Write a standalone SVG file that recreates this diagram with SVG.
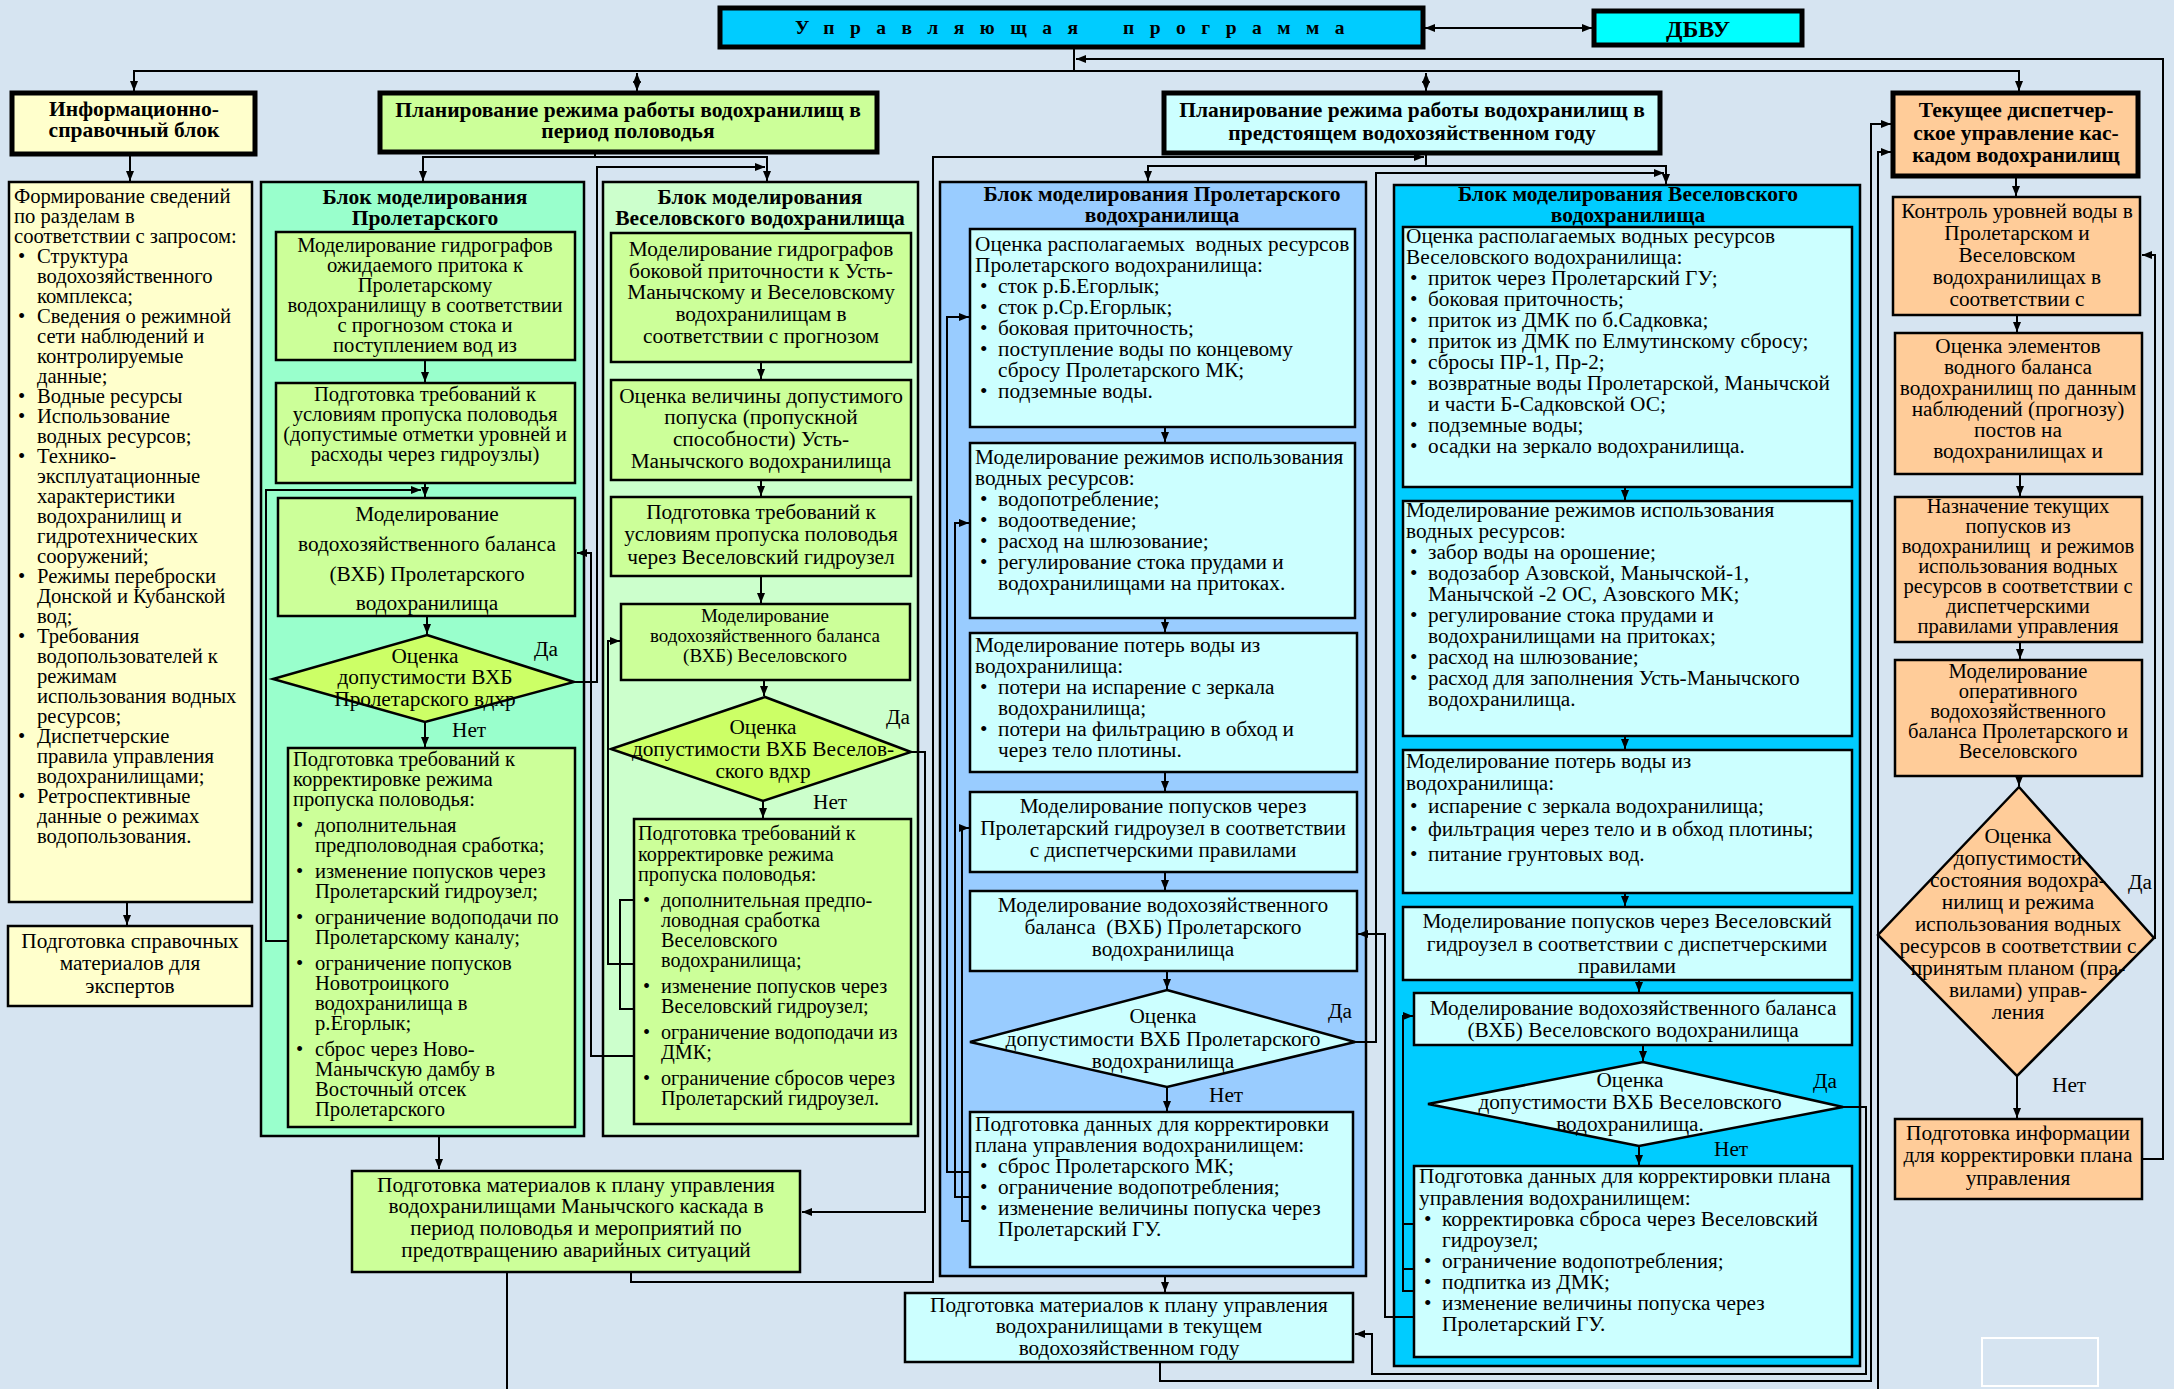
<svg xmlns="http://www.w3.org/2000/svg" width="2174" height="1389" viewBox="0 0 2174 1389">
<defs>
<style>
.n{stroke:#000;stroke-width:2.5}
.hd{stroke:#000;stroke-width:5}
.y{fill:#FFFFCC}
.g{fill:#CCFF99}
.gd{fill:#CCFF66}
.mint{fill:#99FFCC}
.lg{fill:#CCFFCC}
.lc{fill:#CCFFFF}
.bl{fill:#99CCFF}
.cy{fill:#00CCFF}
.aq{fill:#00FFFF}
.or{fill:#FFCC99}
text{font-family:"Liberation Serif","Times New Roman",serif;font-size:21.3px;fill:#000}
.c{text-anchor:middle}
.b{font-weight:bold;font-size:21.5px}
.s206{font-size:20.6px}
.s20{font-size:20.2px}
.s19{font-size:19px}
#connectors path{fill:none;stroke:#000;stroke-width:2}
</style>
<marker id="a" viewBox="0 0 10 8" refX="10" refY="4" markerWidth="10" markerHeight="8" markerUnits="userSpaceOnUse" orient="auto-start-reverse"><path d="M0 0L10 4L0 8z" fill="#000"/></marker>
</defs>
<rect x="0" y="0" width="2174" height="1389" fill="#D6E4F1"/>

<!-- blocks (containers) -->
<g id="block-prolet-flood"><rect x="261" y="182" width="323" height="954" class="mint n"/>
<text class="c b"><tspan x="425" y="204">Блок моделирования</tspan><tspan x="425" y="225">Пролетарского</tspan></text></g>
<g id="block-vesel-flood"><rect x="603" y="182" width="315" height="954" class="lg n"/>
<text class="c b"><tspan x="760" y="204">Блок моделирования</tspan><tspan x="760" y="225">Веселовского водохранилища</tspan></text></g>
<g id="block-prolet-year"><rect x="940" y="182" width="426" height="1094" class="bl n"/>
<text class="c b"><tspan x="1162" y="201">Блок моделирования Пролетарского</tspan><tspan x="1162" y="222">водохранилища</tspan></text></g>
<g id="block-vesel-year"><rect x="1394" y="185" width="466" height="1181" class="cy n"/>
<text class="c b"><tspan x="1628" y="201">Блок моделирования Веселовского</tspan><tspan x="1628" y="222">водохранилища</tspan></text></g>

<!-- top -->
<g id="control-program"><rect x="720" y="8" width="703" height="39" class="cy hd"/>
<text class="b" style="font-size:19.5px" letter-spacing="15.5"><tspan x="795" y="34">Управляющая</tspan><tspan x="1123" y="34">программа</tspan></text></g>
<g id="dbvu"><rect x="1594" y="11" width="208" height="34" class="aq hd"/>
<text class="c b" style="font-size:24px" x="1698" y="37">ДБВУ</text></g>

<!-- column 1 -->
<g id="info-header"><rect x="12" y="93" width="243" height="61" class="y hd"/>
<text class="c b"><tspan x="134" y="116">Информационно-</tspan><tspan x="134" y="137">справочный блок</tspan></text></g>
<g id="info-list"><rect x="9" y="182" width="243" height="720" class="y n"/>
<text class="s206">
<tspan x="14" y="203">Формирование сведений</tspan>
<tspan x="14" y="223">по разделам в</tspan>
<tspan x="14" y="243">соответствии с запросом:</tspan>
<tspan x="18" y="263">•</tspan><tspan x="37">Структура</tspan>
<tspan x="37" y="283">водохозяйственного</tspan>
<tspan x="37" y="303">комплекса;</tspan>
<tspan x="18" y="323">•</tspan><tspan x="37">Сведения о режимной</tspan>
<tspan x="37" y="343">сети наблюдений и</tspan>
<tspan x="37" y="363">контролируемые</tspan>
<tspan x="37" y="383">данные;</tspan>
<tspan x="18" y="403">•</tspan><tspan x="37">Водные ресурсы</tspan>
<tspan x="18" y="423">•</tspan><tspan x="37">Использование</tspan>
<tspan x="37" y="443">водных ресурсов;</tspan>
<tspan x="18" y="463">•</tspan><tspan x="37">Технико-</tspan>
<tspan x="37" y="483">эксплуатационные</tspan>
<tspan x="37" y="503">характеристики</tspan>
<tspan x="37" y="523">водохранилищ и</tspan>
<tspan x="37" y="543">гидротехнических</tspan>
<tspan x="37" y="563">сооружений;</tspan>
<tspan x="18" y="583">•</tspan><tspan x="37">Режимы переброски</tspan>
<tspan x="37" y="603">Донской и Кубанской</tspan>
<tspan x="37" y="623">вод;</tspan>
<tspan x="18" y="643">•</tspan><tspan x="37">Требования</tspan>
<tspan x="37" y="663">водопользователей к</tspan>
<tspan x="37" y="683">режимам</tspan>
<tspan x="37" y="703">использования водных</tspan>
<tspan x="37" y="723">ресурсов;</tspan>
<tspan x="18" y="743">•</tspan><tspan x="37">Диспетчерские</tspan>
<tspan x="37" y="763">правила управления</tspan>
<tspan x="37" y="783">водохранилищами;</tspan>
<tspan x="18" y="803">•</tspan><tspan x="37">Ретроспективные</tspan>
<tspan x="37" y="823">данные о режимах</tspan>
<tspan x="37" y="843">водопользования.</tspan>
</text></g>
<g id="info-experts"><rect x="8" y="926" width="244" height="80" class="y n"/>
<text class="c"><tspan x="130" y="948">Подготовка справочных</tspan><tspan x="130" y="970">материалов для</tspan><tspan x="130" y="993">экспертов</tspan></text></g>

<!-- column 2 -->
<g id="flood-header"><rect x="380" y="93" width="497" height="59" class="g hd"/>
<text class="c b"><tspan x="628" y="117">Планирование режима работы водохранилищ в</tspan><tspan x="628" y="138">период половодья</tspan></text></g>
<g id="pf-hydro"><rect x="276" y="232" width="299" height="128" class="g n"/>
<text class="c s206"><tspan x="425" y="252">Моделирование гидрографов</tspan><tspan x="425" y="272">ожидаемого притока к</tspan><tspan x="425" y="292">Пролетарскому</tspan><tspan x="425" y="312">водохранилищу в соответствии</tspan><tspan x="425" y="332">с прогнозом стока и</tspan><tspan x="425" y="352">поступлением вод из</tspan></text></g>
<g id="pf-req"><rect x="276" y="383" width="299" height="100" class="g n"/>
<text class="c s206"><tspan x="425" y="401">Подготовка требований к</tspan><tspan x="425" y="421">условиям пропуска половодья</tspan><tspan x="425" y="441">(допустимые отметки уровней и</tspan><tspan x="425" y="461">расходы через гидроузлы)</tspan></text></g>
<g id="pf-balance"><rect x="278" y="498" width="297" height="118" class="g n"/>
<text class="c"><tspan x="427" y="521">Моделирование</tspan><tspan x="427" y="551">водохозяйственного баланса</tspan><tspan x="427" y="581">(ВХБ) Пролетарского</tspan><tspan x="427" y="610">водохранилища</tspan></text></g>
<g id="pf-check"><polygon points="427,635 574,682 425,722 273,679" class="gd n"/>
<text class="c"><tspan x="425" y="663">Оценка</tspan><tspan x="425" y="684">допустимости ВХБ</tspan><tspan x="425" y="706">Пролетарского вдхр</tspan></text></g>
<g id="pf-correct"><rect x="288" y="748" width="287" height="379" class="g n"/>
<text class="s206">
<tspan x="293" y="766">Подготовка требований к</tspan>
<tspan x="293" y="786">корректировке режима</tspan>
<tspan x="293" y="806">пропуска половодья:</tspan>
<tspan x="296" y="832">•</tspan><tspan x="315">дополнительная</tspan>
<tspan x="315" y="852">предполоводная сработка;</tspan>
<tspan x="296" y="878">•</tspan><tspan x="315">изменение попусков через</tspan>
<tspan x="315" y="898">Пролетарский гидроузел;</tspan>
<tspan x="296" y="924">•</tspan><tspan x="315">ограничение водоподачи по</tspan>
<tspan x="315" y="944">Пролетарскому каналу;</tspan>
<tspan x="296" y="970">•</tspan><tspan x="315">ограничение попусков</tspan>
<tspan x="315" y="990">Новотроицкого</tspan>
<tspan x="315" y="1010">водохранилища в</tspan>
<tspan x="315" y="1030">р.Егорлык;</tspan>
<tspan x="296" y="1056">•</tspan><tspan x="315">сброс через Ново-</tspan>
<tspan x="315" y="1076">Манычскую дамбу в</tspan>
<tspan x="315" y="1096">Восточный отсек</tspan>
<tspan x="315" y="1116">Пролетарского</tspan>
</text></g>
<g id="flood-materials"><rect x="352" y="1171" width="448" height="101" class="g n"/>
<text class="c"><tspan x="576" y="1192">Подготовка материалов к плану управления</tspan><tspan x="576" y="1213">водохранилищами Манычского каскада в</tspan><tspan x="576" y="1235">период половодья и мероприятий по</tspan><tspan x="576" y="1257">предотвращению аварийных ситуаций</tspan></text></g>

<!-- column 3 -->
<g id="vf-hydro"><rect x="611" y="233" width="300" height="129" class="g n"/>
<text class="c"><tspan x="761" y="256">Моделирование гидрографов</tspan><tspan x="761" y="278">боковой приточности к Усть-</tspan><tspan x="761" y="299">Манычскому и Веселовскому</tspan><tspan x="761" y="321">водохранилищам в</tspan><tspan x="761" y="343">соответствии с прогнозом</tspan></text></g>
<g id="vf-capacity"><rect x="611" y="380" width="300" height="100" class="g n"/>
<text class="c"><tspan x="761" y="403">Оценка величины допустимого</tspan><tspan x="761" y="424">попуска (пропускной</tspan><tspan x="761" y="446">способности) Усть-</tspan><tspan x="761" y="468">Манычского водохранилища</tspan></text></g>
<g id="vf-req"><rect x="611" y="497" width="300" height="79" class="g n"/>
<text class="c"><tspan x="761" y="519">Подготовка требований к</tspan><tspan x="761" y="541">условиям пропуска половодья</tspan><tspan x="761" y="564">через Веселовский гидроузел</tspan></text></g>
<g id="vf-balance"><rect x="621" y="604" width="289" height="76" class="g n"/>
<text class="c s19"><tspan x="765" y="622">Моделирование</tspan><tspan x="765" y="642">водохозяйственного баланса</tspan><tspan x="765" y="662">(ВХБ) Веселовского</tspan></text></g>
<g id="vf-check"><polygon points="765,697 911,752 763,801 611,749" class="gd n"/>
<text class="c"><tspan x="763" y="734">Оценка</tspan><tspan x="763" y="756">допустимости ВХБ Веселов-</tspan><tspan x="763" y="778">ского вдхр</tspan></text></g>
<g id="vf-correct"><rect x="634" y="819" width="277" height="305" class="g n"/>
<text class="s20">
<tspan x="638" y="840">Подготовка требований к</tspan>
<tspan x="638" y="861">корректировке режима</tspan>
<tspan x="638" y="881">пропуска половодья:</tspan>
<tspan x="643" y="907">•</tspan><tspan x="661">дополнительная предпо-</tspan>
<tspan x="661" y="927">ловодная сработка</tspan>
<tspan x="661" y="947">Веселовского</tspan>
<tspan x="661" y="967">водохранилища;</tspan>
<tspan x="643" y="993">•</tspan><tspan x="661">изменение попусков через</tspan>
<tspan x="661" y="1013">Веселовский гидроузел;</tspan>
<tspan x="643" y="1039">•</tspan><tspan x="661">ограничение водоподачи из</tspan>
<tspan x="661" y="1059">ДМК;</tspan>
<tspan x="643" y="1085">•</tspan><tspan x="661">ограничение сбросов через</tspan>
<tspan x="661" y="1105">Пролетарский гидроузел.</tspan>
</text></g>

<!-- column 4 -->
<g id="year-header"><rect x="1164" y="93" width="496" height="60" class="lc hd"/>
<text class="c b"><tspan x="1412" y="117">Планирование режима работы водохранилищ в</tspan><tspan x="1412" y="140">предстоящем водохозяйственном году</tspan></text></g>
<g id="py-resources"><rect x="970" y="229" width="385" height="198" class="lc n"/>
<text>
<tspan x="975" y="251">Оценка располагаемых&#160; водных ресурсов</tspan>
<tspan x="975" y="272">Пролетарского водохранилища:</tspan>
<tspan x="980" y="293">•</tspan><tspan x="998">сток р.Б.Егорлык;</tspan>
<tspan x="980" y="314">•</tspan><tspan x="998">сток р.Ср.Егорлык;</tspan>
<tspan x="980" y="335">•</tspan><tspan x="998">боковая приточность;</tspan>
<tspan x="980" y="356">•</tspan><tspan x="998">поступление воды по концевому</tspan>
<tspan x="998" y="377">сбросу Пролетарского МК;</tspan>
<tspan x="980" y="398">•</tspan><tspan x="998">подземные воды.</tspan>
</text></g>
<g id="py-usage"><rect x="970" y="443" width="385" height="175" class="lc n"/>
<text>
<tspan x="975" y="464">Моделирование режимов использования</tspan>
<tspan x="975" y="485">водных ресурсов:</tspan>
<tspan x="980" y="506">•</tspan><tspan x="998">водопотребление;</tspan>
<tspan x="980" y="527">•</tspan><tspan x="998">водоотведение;</tspan>
<tspan x="980" y="548">•</tspan><tspan x="998">расход на шлюзование;</tspan>
<tspan x="980" y="569">•</tspan><tspan x="998">регулирование стока прудами и</tspan>
<tspan x="998" y="590">водохранилищами на притоках.</tspan>
</text></g>
<g id="py-losses"><rect x="970" y="633" width="387" height="139" class="lc n"/>
<text>
<tspan x="975" y="652">Моделирование потерь воды из</tspan>
<tspan x="975" y="673">водохранилища:</tspan>
<tspan x="980" y="694">•</tspan><tspan x="998">потери на испарение с зеркала</tspan>
<tspan x="998" y="715">водохранилища;</tspan>
<tspan x="980" y="736">•</tspan><tspan x="998">потери на фильтрацию в обход и</tspan>
<tspan x="998" y="757">через тело плотины.</tspan>
</text></g>
<g id="py-releases"><rect x="970" y="792" width="387" height="80" class="lc n"/>
<text class="c"><tspan x="1163" y="813">Моделирование попусков через</tspan><tspan x="1163" y="835">Пролетарский гидроузел в соответствии</tspan><tspan x="1163" y="857">с диспетчерскими правилами</tspan></text></g>
<g id="py-balance"><rect x="970" y="891" width="387" height="80" class="lc n"/>
<text class="c"><tspan x="1163" y="912">Моделирование водохозяйственного</tspan><tspan x="1163" y="934">баланса&#160; (ВХБ) Пролетарского</tspan><tspan x="1163" y="956">водохранилища</tspan></text></g>
<g id="py-check"><polygon points="1167,990 1355,1042 1167,1087 970,1042" class="lc n"/>
<text class="c"><tspan x="1163" y="1023">Оценка</tspan><tspan x="1163" y="1046">допустимости ВХБ Пролетарского</tspan><tspan x="1163" y="1068">водохранилища</tspan></text></g>
<g id="py-correct"><rect x="970" y="1112" width="383" height="155" class="lc n"/>
<text>
<tspan x="975" y="1131">Подготовка данных для корректировки</tspan>
<tspan x="975" y="1152">плана управления водохранилищем:</tspan>
<tspan x="980" y="1173">•</tspan><tspan x="998">сброс Пролетарского МК;</tspan>
<tspan x="980" y="1194">•</tspan><tspan x="998">ограничение водопотребления;</tspan>
<tspan x="980" y="1215">•</tspan><tspan x="998">изменение величины попуска через</tspan>
<tspan x="998" y="1236">Пролетарский ГУ.</tspan>
</text></g>
<g id="year-materials"><rect x="905" y="1293" width="448" height="69" class="lc n"/>
<text class="c"><tspan x="1129" y="1312">Подготовка материалов к плану управления</tspan><tspan x="1129" y="1333">водохранилищами в текущем</tspan><tspan x="1129" y="1355">водохозяйственном году</tspan></text></g>

<!-- column 5 -->
<g id="vy-resources"><rect x="1403" y="227" width="449" height="260" class="lc n"/>
<text>
<tspan x="1406" y="243">Оценка располагаемых водных ресурсов</tspan>
<tspan x="1406" y="264">Веселовского водохранилища:</tspan>
<tspan x="1410" y="285">•</tspan><tspan x="1428">приток через Пролетарский ГУ;</tspan>
<tspan x="1410" y="306">•</tspan><tspan x="1428">боковая приточность;</tspan>
<tspan x="1410" y="327">•</tspan><tspan x="1428">приток из ДМК по б.Садковка;</tspan>
<tspan x="1410" y="348">•</tspan><tspan x="1428">приток из ДМК по Елмутинскому сбросу;</tspan>
<tspan x="1410" y="369">•</tspan><tspan x="1428">сбросы ПР-1, Пр-2;</tspan>
<tspan x="1410" y="390">•</tspan><tspan x="1428">возвратные воды Пролетарской, Манычской</tspan>
<tspan x="1428" y="411">и части Б-Садковской ОС;</tspan>
<tspan x="1410" y="432">•</tspan><tspan x="1428">подземные воды;</tspan>
<tspan x="1410" y="453">•</tspan><tspan x="1428">осадки на зеркало водохранилища.</tspan>
</text></g>
<g id="vy-usage"><rect x="1403" y="501" width="449" height="235" class="lc n"/>
<text>
<tspan x="1406" y="517">Моделирование режимов использования</tspan>
<tspan x="1406" y="538">водных ресурсов:</tspan>
<tspan x="1410" y="559">•</tspan><tspan x="1428">забор воды на орошение;</tspan>
<tspan x="1410" y="580">•</tspan><tspan x="1428">водозабор Азовской, Манычской-1,</tspan>
<tspan x="1428" y="601">Манычской -2 ОС, Азовского МК;</tspan>
<tspan x="1410" y="622">•</tspan><tspan x="1428">регулирование стока прудами и</tspan>
<tspan x="1428" y="643">водохранилищами на притоках;</tspan>
<tspan x="1410" y="664">•</tspan><tspan x="1428">расход на шлюзование;</tspan>
<tspan x="1410" y="685">•</tspan><tspan x="1428">расход для заполнения Усть-Манычского</tspan>
<tspan x="1428" y="706">водохранилища.</tspan>
</text></g>
<g id="vy-losses"><rect x="1403" y="750" width="449" height="143" class="lc n"/>
<text>
<tspan x="1406" y="768">Моделирование потерь воды из</tspan>
<tspan x="1406" y="790">водохранилища:</tspan>
<tspan x="1410" y="813">•</tspan><tspan x="1428">испарение с зеркала водохранилища;</tspan>
<tspan x="1410" y="836">•</tspan><tspan x="1428">фильтрация через тело и в обход плотины;</tspan>
<tspan x="1410" y="861">•</tspan><tspan x="1428">питание грунтовых вод.</tspan>
</text></g>
<g id="vy-releases"><rect x="1403" y="907" width="449" height="73" class="lc n"/>
<text class="c"><tspan x="1627" y="928">Моделирование попусков через Веселовский</tspan><tspan x="1627" y="951">гидроузел в соответствии с диспетчерскими</tspan><tspan x="1627" y="973">правилами</tspan></text></g>
<g id="vy-balance"><rect x="1414" y="993" width="438" height="52" class="lc n"/>
<text class="c"><tspan x="1633" y="1015">Моделирование водохозяйственного баланса</tspan><tspan x="1633" y="1037">(ВХБ) Веселовского водохранилища</tspan></text></g>
<g id="vy-check"><polygon points="1643,1062 1843,1107 1639,1146 1428,1104" class="lc n"/>
<text class="c"><tspan x="1630" y="1087">Оценка</tspan><tspan x="1630" y="1109">допустимости ВХБ Веселовского</tspan><tspan x="1630" y="1131">водохранилища.</tspan></text></g>
<g id="vy-correct"><rect x="1414" y="1166" width="438" height="191" class="lc n"/>
<text>
<tspan x="1419" y="1183">Подготовка данных для корректировки плана</tspan>
<tspan x="1419" y="1205">управления водохранилищем:</tspan>
<tspan x="1424" y="1226">•</tspan><tspan x="1442">корректировка сброса через Веселовский</tspan>
<tspan x="1442" y="1247">гидроузел;</tspan>
<tspan x="1424" y="1268">•</tspan><tspan x="1442">ограничение водопотребления;</tspan>
<tspan x="1424" y="1289">•</tspan><tspan x="1442">подпитка из ДМК;</tspan>
<tspan x="1424" y="1310">•</tspan><tspan x="1442">изменение величины попуска через</tspan>
<tspan x="1442" y="1331">Пролетарский ГУ.</tspan>
</text></g>

<!-- column 6 -->
<g id="dispatch-header"><rect x="1893" y="93" width="245" height="83" class="or hd"/>
<text class="c b"><tspan x="2016" y="117">Текущее диспетчер-</tspan><tspan x="2016" y="140">ское управление кас-</tspan><tspan x="2016" y="162">кадом водохранилищ</tspan></text></g>
<g id="d-levels"><rect x="1893" y="197" width="247" height="118" class="or n"/>
<text class="c"><tspan x="2017" y="218">Контроль уровней воды в</tspan><tspan x="2017" y="240">Пролетарском и</tspan><tspan x="2017" y="262">Веселовском</tspan><tspan x="2017" y="284">водохранилищах в</tspan><tspan x="2017" y="306">соответствии с</tspan></text></g>
<g id="d-balance-elements"><rect x="1895" y="333" width="247" height="141" class="or n"/>
<text class="c"><tspan x="2018" y="353">Оценка элементов</tspan><tspan x="2018" y="374">водного баланса</tspan><tspan x="2018" y="395">водохранилищ по данным</tspan><tspan x="2018" y="416">наблюдений (прогнозу)</tspan><tspan x="2018" y="437">постов на</tspan><tspan x="2018" y="458">водохранилищах и</tspan></text></g>
<g id="d-assign"><rect x="1895" y="497" width="247" height="145" class="or n"/>
<text class="c s206"><tspan x="2018" y="513">Назначение текущих</tspan><tspan x="2018" y="533">попусков из</tspan><tspan x="2018" y="553">водохранилищ&#160; и режимов</tspan><tspan x="2018" y="573">использования водных</tspan><tspan x="2018" y="593">ресурсов в соответствии с</tspan><tspan x="2018" y="613">диспетчерскими</tspan><tspan x="2018" y="633">правилами управления</tspan></text></g>
<g id="d-oper-balance"><rect x="1895" y="660" width="247" height="116" class="or n"/>
<text class="c s206"><tspan x="2018" y="678">Моделирование</tspan><tspan x="2018" y="698">оперативного</tspan><tspan x="2018" y="718">водохозяйственного</tspan><tspan x="2018" y="738">баланса Пролетарского и</tspan><tspan x="2018" y="758">Веселовского</tspan></text></g>
<g id="d-check"><polygon points="2019,787 2154,938 2017,1076 1878,935" class="or n"/>
<text class="c"><tspan x="2018" y="843">Оценка</tspan><tspan x="2018" y="865">допустимости</tspan><tspan x="2018" y="887">состояния водохра-</tspan><tspan x="2018" y="909">нилищ и режима</tspan><tspan x="2018" y="931">использования водных</tspan><tspan x="2018" y="953">ресурсов в соответствии с</tspan><tspan x="2018" y="975">принятым планом (пра-</tspan><tspan x="2018" y="997">вилами) управ-</tspan><tspan x="2018" y="1019">ления</tspan></text></g>
<g id="d-info"><rect x="1895" y="1119" width="247" height="80" class="or n"/>
<text class="c"><tspan x="2018" y="1140">Подготовка информации</tspan><tspan x="2018" y="1162">для корректировки плана</tspan><tspan x="2018" y="1185">управления</tspan></text></g>

<rect x="1982" y="1338" width="116" height="48" fill="none" stroke="#FFFFFF" stroke-width="2"/>

<!-- connectors -->
<g id="connectors">
<path d="M1074 47V71"/>
<path d="M134 91V71H2019V91" marker-start="url(#a)" marker-end="url(#a)"/>
<path d="M637 73V91" marker-start="url(#a)" marker-end="url(#a)"/>
<path d="M1426 73V91" marker-start="url(#a)" marker-end="url(#a)"/>
<path d="M1425 28H1592" marker-start="url(#a)" marker-end="url(#a)"/>
<path d="M2142 1159H2163V59H1076" marker-end="url(#a)"/>
<path d="M2154 938H2155V255H2142" marker-end="url(#a)"/>
<path d="M130 154V181" marker-end="url(#a)"/>
<path d="M127 902V925" marker-end="url(#a)"/>
<path d="M595 152V157"/>
<path d="M423 181V157H767V181" marker-start="url(#a)" marker-end="url(#a)"/>
<path d="M425 360V382" marker-end="url(#a)"/>
<path d="M425 483V497" marker-end="url(#a)"/>
<path d="M288 941H266V490H421" marker-end="url(#a)"/>
<path d="M427 616V634" marker-end="url(#a)"/>
<path d="M425 722V747" marker-end="url(#a)"/>
<path d="M439 1136V1169" marker-end="url(#a)"/>
<path d="M574 682H597V167H765" marker-end="url(#a)"/>
<path d="M634 1056H591V553H577" marker-end="url(#a)"/>
<path d="M761 362V379" marker-end="url(#a)"/>
<path d="M761 480V496" marker-end="url(#a)"/>
<path d="M761 576V603" marker-end="url(#a)"/>
<path d="M764 680V696" marker-end="url(#a)"/>
<path d="M763 801V818" marker-end="url(#a)"/>
<path d="M634 964H608V641H620" marker-end="url(#a)"/>
<path d="M634 900H620V1009H634"/>
<path d="M911 752H925V1212H802" marker-end="url(#a)"/>
<path d="M631 1272V1282H933V157H1424" marker-end="url(#a)"/>
<path d="M1426 153V166"/>
<path d="M1148 181V166H1666V184" marker-start="url(#a)" marker-end="url(#a)"/>
<path d="M1355 1042H1376V173H1664" marker-end="url(#a)"/>
<path d="M1165 427V442" marker-end="url(#a)"/>
<path d="M1165 618V632" marker-end="url(#a)"/>
<path d="M1165 772V791" marker-end="url(#a)"/>
<path d="M1165 872V890" marker-end="url(#a)"/>
<path d="M1167 971V989" marker-end="url(#a)"/>
<path d="M1167 1087V1111" marker-end="url(#a)"/>
<path d="M1165 1276V1292" marker-end="url(#a)"/>
<path d="M970 1172H947V317H969" marker-end="url(#a)"/>
<path d="M970 1197H955V523H969" marker-end="url(#a)"/>
<path d="M970 1221H962V828H969" marker-end="url(#a)"/>
<path d="M1625 487V500" marker-end="url(#a)"/>
<path d="M1625 736V749" marker-end="url(#a)"/>
<path d="M1625 893V906" marker-end="url(#a)"/>
<path d="M1639 980V992" marker-end="url(#a)"/>
<path d="M1643 1045V1061" marker-end="url(#a)"/>
<path d="M1639 1146V1165" marker-end="url(#a)"/>
<path d="M1414 1291H1403V1016H1413" marker-end="url(#a)"/>
<path d="M1414 1224H1403M1414 1269H1403"/>
<path d="M1414 1317H1385V934H1358" marker-end="url(#a)"/>
<path d="M1843 1107H1866V1374H1372V1334H1355" marker-end="url(#a)"/>
<path d="M1160 1362V1381H1871V124H1891" marker-end="url(#a)"/>
<path d="M507 1272V1400H1878V152H1891" marker-end="url(#a)"/>
<path d="M2016 176V196" marker-end="url(#a)"/>
<path d="M2017 315V332" marker-end="url(#a)"/>
<path d="M2020 474V496" marker-end="url(#a)"/>
<path d="M2020 642V659" marker-end="url(#a)"/>
<path d="M2019 776V786" marker-end="url(#a)"/>
<path d="M2017 1076V1118" marker-end="url(#a)"/>
</g>

<!-- branch labels -->
<g id="labels">
<text x="534" y="656">Да</text>
<text x="452" y="737">Нет</text>
<text x="886" y="724">Да</text>
<text x="813" y="809">Нет</text>
<text x="1328" y="1018">Да</text>
<text x="1209" y="1102">Нет</text>
<text x="1813" y="1088">Да</text>
<text x="1714" y="1156">Нет</text>
<text x="2128" y="889">Да</text>
<text x="2052" y="1092">Нет</text>
</g>
</svg>
